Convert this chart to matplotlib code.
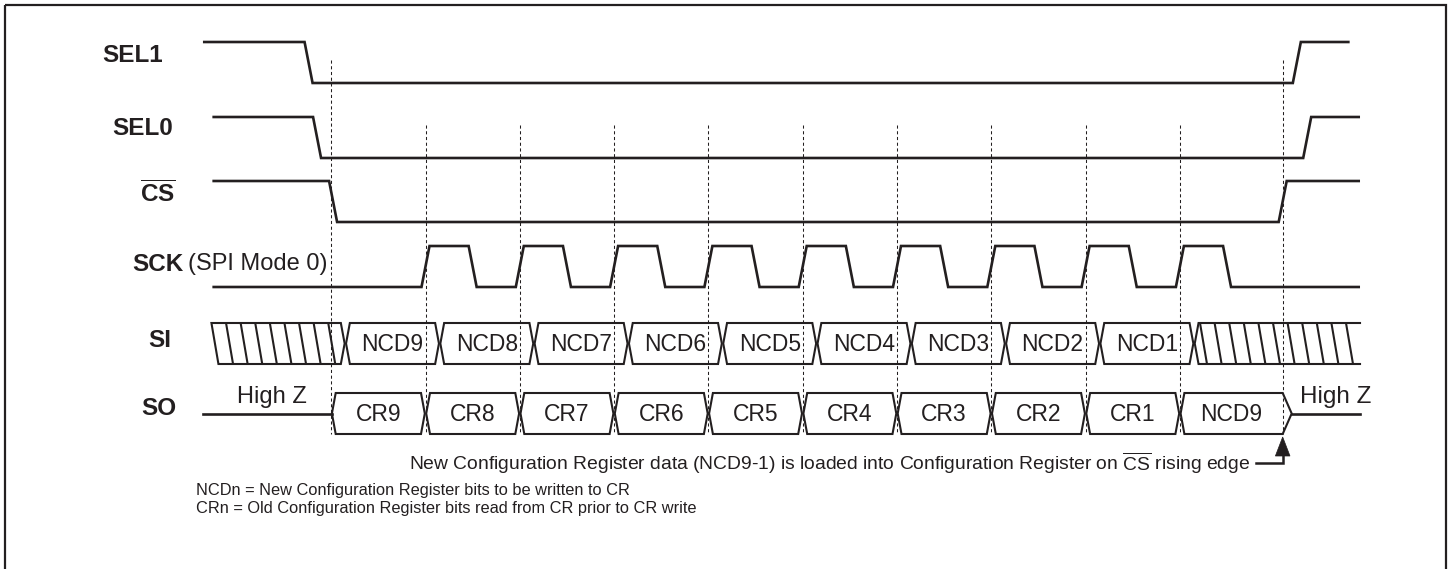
import matplotlib
matplotlib.use("Agg")
import matplotlib.pyplot as plt
from matplotlib.patches import Polygon, Rectangle
from matplotlib.lines import Line2D

plt.rcParams['font.family'] = ['Liberation Sans', 'DejaVu Sans']
plt.rcParams['mathtext.fontset'] = 'custom'
plt.rcParams['mathtext.rm'] = 'Liberation Sans'
plt.rcParams['mathtext.bf'] = 'Liberation Sans:bold'
plt.rcParams['mathtext.it'] = 'Liberation Sans:italic'

# ---------------- data (time in SCK clock periods; t=0 = first SCK rising edge) ----------
signal_names = ["SEL1", "SEL0", "CS", "SCK", "SI", "SO"]
sel1_span = [-2.36, 9.80]          # start, end of trace
sel1_edges = [-1.24, 9.24]         # falling, rising
sel0_span = [-2.26, 9.91]
sel0_edges = [-1.15, 9.35]
cs_span = [-2.26, 9.91]
cs_edges = [-0.98, 9.09]
sck_span = [-2.26, 9.91]
sck_rise = [0, 1, 2, 3, 4, 5, 6, 7, 8]
sck_fall = [0.5, 1.5, 2.5, 3.5, 4.5, 5.5, 6.5, 7.5, 8.5]
si_span = [-2.27, 9.91]
si_bounds = [-0.85, 0.15, 1.15, 2.15, 3.15, 4.15, 5.15, 6.15, 7.15, 8.15]
si_labels = ["NCD9", "NCD8", "NCD7", "NCD6", "NCD5", "NCD4", "NCD3", "NCD2", "NCD1"]
so_span = [-2.36, 9.91]
so_bounds = [-1, 0, 1, 2, 3, 4, 5, 6, 7, 8, 9.09]
so_labels = ["CR9", "CR8", "CR7", "CR6", "CR5", "CR4", "CR3", "CR2", "CR1", "NCD9"]
dashed_long = [-1, 9.09]
dashed_short = [0, 1, 2, 3, 4, 5, 6, 7, 8]
note_text = ("New Configuration Register data (NCD9-1) is loaded into Configuration "
             "Register on $\\overline{\\mathrm{CS}}$ rising edge")
legend_lines = ["NCDn = New Configuration Register bits to be written to CR",
                "CRn = Old Configuration Register bits read from CR prior to CR write"]

# ---------------- layout ----------------
W, H = 1452, 569
X0, T = 425.5, 94.3            # pixel of t=0 and pixels per clock period
def px(x):                      # layout pixel -> time units
    return (x - X0) / T
def dp(d):                      # pixel distance -> time units
    return d / T

INK = '#231f20'
LW = 1.9
EDGE = dp(8)

fig = plt.figure(figsize=(W / 100, H / 100), dpi=100)
ax = fig.add_axes([0, 0, 1, 1])
ax.set_xlim(px(0), px(W))
ax.set_ylim(H, 0)
ax.axis('off')

# border
ax.add_patch(Rectangle((px(5), 5), dp(1441), 600, fill=False, ec=INK, lw=1.6, clip_on=False))

def level_trace(span, edges, hi, lo, start_high=True):
    xs, ys = [span[0]], [hi if start_high else lo]
    cur = hi if start_high else lo
    for e in sorted(edges):
        nxt = lo if cur == hi else hi
        xs += [e - EDGE / 2, e + EDGE / 2]
        ys += [cur, nxt]
        cur = nxt
    xs.append(span[1]); ys.append(cur)
    ax.plot(xs, ys, color=INK, lw=LW, solid_joinstyle='miter', solid_capstyle='butt')

# rows (pixel y)
ROW = {"SEL1": (42, 83), "SEL0": (117, 158), "CS": (181, 222), "SCK": (246, 287),
       "SI": (323, 364), "SO": (393, 434)}

level_trace(sel1_span, sel1_edges, *ROW["SEL1"])
level_trace(sel0_span, sel0_edges, *ROW["SEL0"])
level_trace(cs_span, cs_edges, *ROW["CS"])
level_trace(sck_span, sck_rise + sck_fall, ROW["SCK"][0], ROW["SCK"][1], start_high=False)

# dashed reference lines
for t in dashed_long:
    ax.plot([t, t], [60, 434], color=INK, lw=0.75, ls=(0, (3, 2.5)))
for t in dashed_short:
    ax.plot([t, t], [125, 434], color=INK, lw=0.75, ls=(0, (3, 2.5)))

G, C = dp(0.7), dp(4.5)
BLW = 1.5

def cell(a, b, top, bot, label=None, right_point=None):
    mid = (top + bot) / 2
    if right_point is None:
        pts = [(a + G, mid), (a + C, top), (b - C, top), (b - G, mid), (b - C, bot), (a + C, bot)]
    else:
        pts = [(a + G, mid), (a + C, top), (b, top), (b + right_point, mid), (b, bot), (a + C, bot)]
    ax.add_patch(Polygon(pts, closed=True, fill=False, ec=INK, lw=BLW, joinstyle='miter'))
    if label:
        ax.text((a + b) / 2, mid + 0.5, label, ha='center', va='center', fontsize=16.5, color=INK)

# SI bus
st, sb = ROW["SI"]
smid = (st + sb) / 2
SLANT = dp(7)
SPACE = dp(14.6)
HLW = 1.5
# left hatched region
a0, b0 = si_span[0], si_bounds[0]
left_pts = [(a0, st), (b0 - C, st), (b0 - G, smid), (b0 - C, sb), (a0 + SLANT, sb)]
lp = Polygon(left_pts, closed=True, fill=False, ec=INK, lw=BLW, joinstyle='miter')
ax.add_patch(lp)
x = a0 + SPACE
while x < b0 + SPACE:
    ln = Line2D([x, x + SLANT], [st, sb], color=INK, lw=HLW)
    ax.add_line(ln)
    ln.set_clip_path(lp)
    x += SPACE
for i, lab in enumerate(si_labels):
    cell(si_bounds[i], si_bounds[i + 1], st, sb, lab)
# right hatched region
a1, b1 = si_bounds[-1], si_span[1]
rp = Polygon([(a1 + G, smid), (a1 + C, st), (b1, st), (b1, sb), (a1 + C, sb)], closed=True,
             fill=False, ec='none')
ax.add_patch(rp)
ax.plot([b1, a1 + C, a1 + G, a1 + C, b1], [st, st, smid, sb, sb], color=INK, lw=BLW,
        solid_joinstyle='miter')
x = px(1200)
while x < b1:
    ln = Line2D([x, x + SLANT], [st, sb], color=INK, lw=HLW)
    ax.add_line(ln)
    ln.set_clip_path(rp)
    x += SPACE

# SO bus
ot, ob = ROW["SO"]
omid = (ot + ob) / 2
ax.plot([so_span[0], so_bounds[0] + G], [omid, omid], color=INK, lw=LW)
for i, lab in enumerate(so_labels):
    last = (i == len(so_labels) - 1)
    cell(so_bounds[i], so_bounds[i + 1], ot, ob, lab, right_point=dp(9) if last else None)
ax.plot([so_bounds[-1] + dp(9), so_span[1]], [omid, omid], color=INK, lw=LW)

ax.text(px(237), 397, "High Z", ha='left', va='center', fontsize=17, color=INK)
ax.text(px(1300), 397, "High Z", ha='left', va='center', fontsize=17.5, color=INK)

# signal labels
lab_kw = dict(ha='left', va='center', fontsize=17.5, fontweight='bold', color=INK)
ax.text(px(102), 55, "SEL1", **lab_kw)
ax.text(px(112), 128, "SEL0", **lab_kw)
ax.text(px(140), 194, r"$\overline{\mathbf{CS}}$", **lab_kw)
ax.text(px(132), 264, "SCK", **lab_kw)
ax.text(px(188), 264, "(SPI Mode 0)", ha='left', va='center', fontsize=17, color=INK)
ax.text(px(148), 340, "SI", **lab_kw)
ax.text(px(141), 408, "SO", **lab_kw)

# annotation + arrow
ax.text(px(1250), 463, note_text, ha='right', va='center', fontsize=13.9, color=INK)
ax.plot([px(1256), so_bounds[-1], so_bounds[-1]], [463, 463, 452], color=INK, lw=1.8,
        solid_joinstyle='miter')
ax.add_patch(Polygon([(so_bounds[-1], 437), (so_bounds[-1] - dp(7.3), 456),
                      (so_bounds[-1] + dp(7.3), 456)], closed=True, fc=INK, ec=INK, lw=0.5))

for i, line in enumerate(legend_lines):
    ax.text(px(196), 490 + 19 * i, line, ha='left', va='center', fontsize=11.8, color=INK)

fig.savefig("out.png", dpi=100)
